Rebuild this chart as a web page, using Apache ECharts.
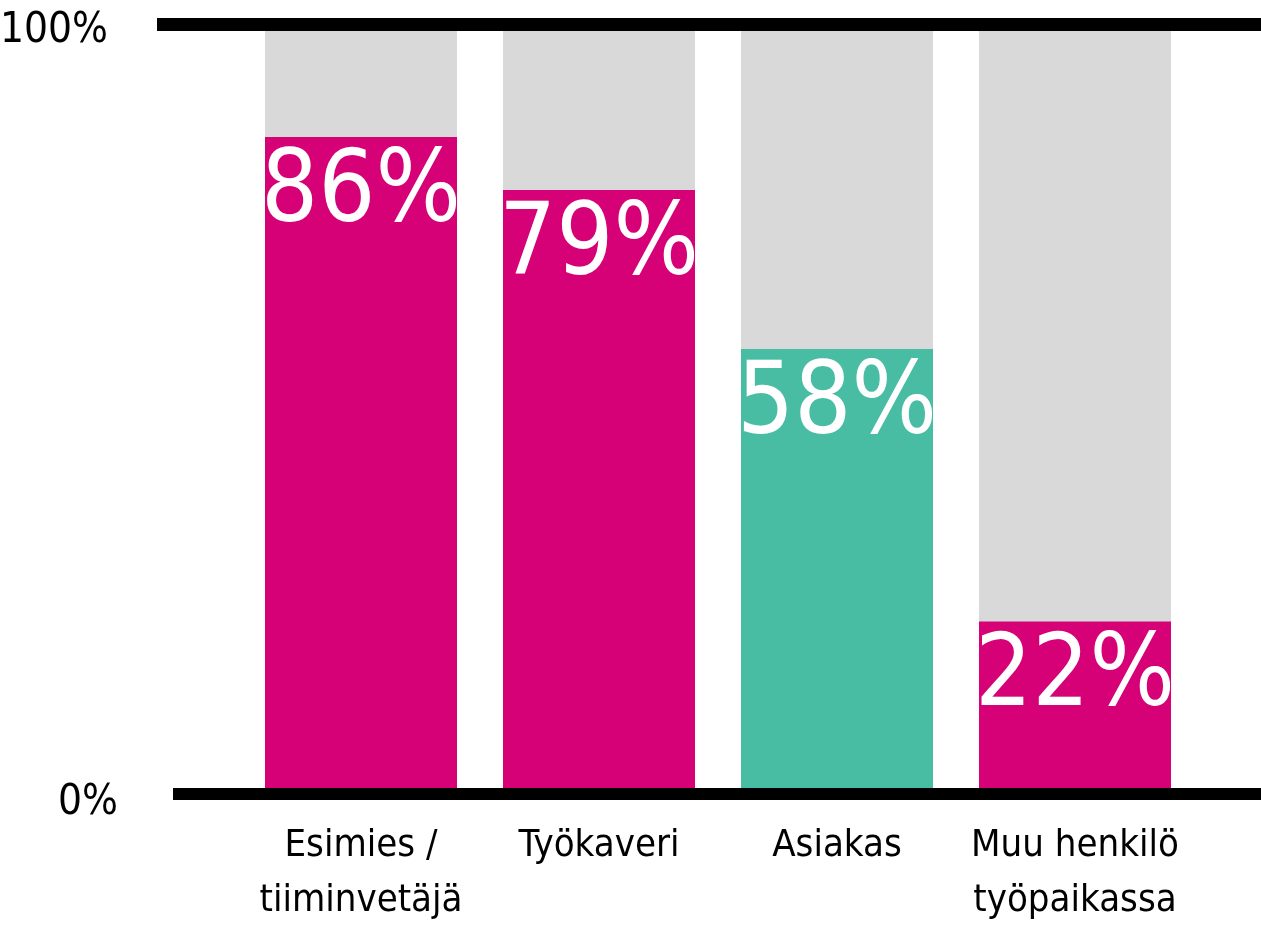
<!DOCTYPE html>
<html>
<head>
<meta charset="utf-8">
<script src="https://cdn.jsdelivr.net/npm/echarts@6/dist/echarts.min.js"></script>
<style>
  html, body { margin: 0; padding: 0; background: #ffffff; }
  #chart { width: 1261px; height: 929px; }
</style>
</head>
<body>
<div id="chart"></div>
<script>
const categories = ['Esimies /\ntiiminvetäjä', 'Työkaveri', 'Asiakas', 'Muu henkilö\ntyöpaikassa']
const values = [86, 79, 58, 22]
const barColors = ['#d60077', '#d60077', '#49bda4', '#d60077']
const yTicks = [0, 100]

// pick the narrowest installed face we have
const pickFont = (list) => {
  const ctx = document.createElement('canvas').getContext('2d')
  const probe = 'Esimies / 86%'
  ctx.font = '40px monospace'
  const base = ctx.measureText(probe).width
  for (const f of list) {
    ctx.font = "40px '" + f + "', monospace"
    if (ctx.measureText(probe).width !== base) return "'" + f + "', sans-serif"
  }
  return 'sans-serif'
}
const font = pickFont(['Liberation Sans Narrow', 'DejaVu Sans Condensed', 'Roboto'])
const narrow = font.indexOf('Narrow') >= 0

const chart = echarts.init(document.getElementById('chart'))

const rule = (gridIndex, position, offset, width) => ({
  gridIndex,
  type: 'category',
  position,
  data: [''],
  offset,
  axisLine: { show: true, onZero: false, lineStyle: { color: '#000000', width, cap: 'butt' } },
  axisTick: { show: false },
  axisLabel: { show: false },
})

chart.setOption({
  animation: false,
  grid: [
    // bars
    { left: 242, right: 67, top: 31, bottom: 141, outerBoundsMode: 'none' },
    // bottom rule
    { left: 173, right: 0, top: 31, bottom: 141, outerBoundsMode: 'none' },
    // top rule
    { left: 157, right: 0, top: 31, bottom: 141, outerBoundsMode: 'none' },
  ],
  xAxis: [
    {
      gridIndex: 0,
      type: 'category',
      data: categories,
      axisLine: { show: false },
      axisTick: { show: false },
      axisLabel: {
        color: '#000000',
        fontFamily: font,
        fontSize: narrow ? 42 : 38,
        lineHeight: 55,
        verticalAlign: 'top',
        margin: 31,
        interval: 0,
      },
    },
    rule(1, 'bottom', 6, 12),
    rule(2, 'top', 7, 13),
  ],
  yAxis: [
    {
      gridIndex: 0,
      type: 'value',
      min: yTicks[0],
      max: yTicks[1],
      interval: 100,
      splitLine: { show: false },
      axisLine: { show: false },
      axisTick: { show: false },
      axisLabel: {
        margin: 124,
        color: '#000000',
        formatter: (v) => (v === 0 ? '{zero|' + v + '%}' : '{full|' + v + '%}'),
        rich: {
          zero: { fontFamily: font, fontSize: narrow ? 46 : 42, color: '#000000', padding: [30, 0, 0, 0] },
          full: { fontFamily: font, fontSize: narrow ? 46 : 42, color: '#000000', padding: [0, 10, 0, 0] },
        },
      },
    },
    { gridIndex: 1, type: 'value', min: 0, max: 1, show: false },
    { gridIndex: 2, type: 'value', min: 0, max: 1, show: false },
  ],
  series: [
    {
      type: 'bar',
      xAxisIndex: 0,
      yAxisIndex: 0,
      barWidth: 192,
      showBackground: true,
      backgroundStyle: { color: '#d9d9d9' },
      data: values.map((v, i) => ({ value: v, itemStyle: { color: barColors[i] } })),
      label: {
        show: true,
        position: 'insideTop',
        distance: 8,
        color: '#ffffff',
        fontFamily: font,
        fontSize: narrow ? 110 : 100,
        formatter: '{c}%',
      },
    },
  ],
})
</script>
</body>
</html>
